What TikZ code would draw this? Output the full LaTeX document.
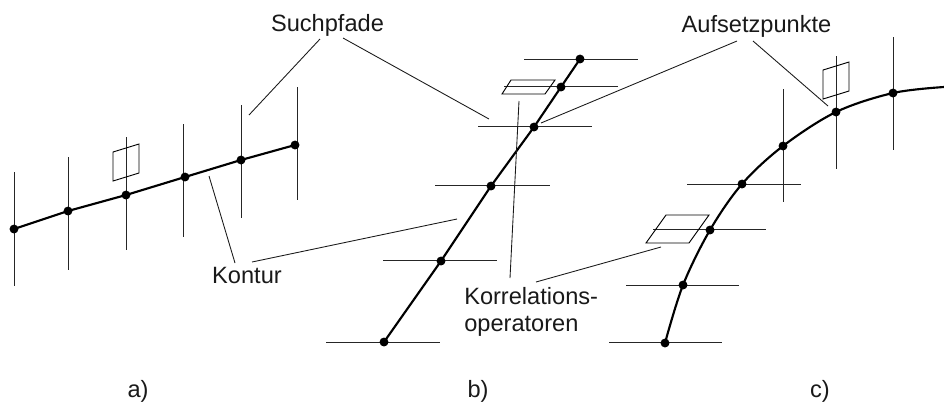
\documentclass[tikz,border=0pt]{standalone}
\usepackage{fontspec}
\setmainfont{Liberation Sans}
\tikzset{
  dotn/.style={circle,fill=black,inner sep=0pt,minimum size=6.7pt},
  contour/.style={line width=1.6pt,black},
  search/.style={line width=0.75pt,black!85},
  leader/.style={line width=0.65pt,black!90},
  oper/.style={line width=0.7pt,black},
  lab/.style={font=\fontsize{17.7}{20.5}\selectfont,inner sep=0pt,text=black!90},
  baselab/.style={lab,anchor=base}
}
\begin{document}
\begin{tikzpicture}[x=0.75pt,y=-0.75pt]
\useasboundingbox (0,0) rectangle (944,405);
% Panel a
\foreach \n/\x/\y/\xv/\ya/\yb in {a1/14/229/14/172/286,a2/68/211/68/157/270,a3/126/195/126/137/250,a4/185/177/183/124/237,a5/241/160/241/105/218,a6/295/145/297/87/200}{
  \coordinate (\n) at (\x,\y);
  \coordinate (\n t) at (\xv,\ya);
  \coordinate (\n b) at (\xv,\yb);
  \draw[search] (\n t) -- (\n b);
}
\draw[contour] (a1) -- (a2) -- (a3) -- (a4) -- (a5) -- (a6);
\foreach \n in {a1,a2,a3,a4,a5,a6} \node[dotn] (d\n) at (\n) {};
\draw[oper] (113,152) -- (139,144) -- (139,173) -- (113,181) -- cycle;
% Panel b
\foreach \n/\x/\y/\xl/\xr/\yh in {b1/384/342/326/440/342,b2/441/261/383/497/260,b3/491/186/435/550/185,b4/534/127/478/592/126.5,b5/561/87/504/618/86,b6/580/59/524/638/59}{
  \coordinate (\n) at (\x,\y);
  \coordinate (\n l) at (\xl,\yh);
  \coordinate (\n r) at (\xr,\yh);
  \draw[search] (\n l) -- (\n r);
}
\draw[contour] (b1) -- (b2) -- (b3) -- (b4) -- (b5) -- (b6);
\foreach \n in {b1,b2,b3,b4,b5,b6} \node[dotn] (d\n) at (\n) {};
\draw[oper] (511,80) -- (555,80) -- (545,94) -- (502,94) -- cycle;
% Panel c
\foreach \n/\x/\y/\xl/\xr/\yh in {c1/665/343/609/722/342,c2/683/285/626/739/285,c3/710/230/653/766/229,c4/742/184/687/801/184}{
  \coordinate (\n) at (\x,\y);
  \coordinate (\n l) at (\xl,\yh);
  \coordinate (\n r) at (\xr,\yh);
  \draw[search] (\n l) -- (\n r);
}
\foreach \n/\x/\y/\ya/\yb in {c5/783/146/89/202,c6/836/112/56/169,c7/893/93/37/150}{
  \coordinate (\n) at (\x,\y);
  \coordinate (\n t) at (\x,\ya);
  \coordinate (\n b) at (\x,\yb);
  \draw[search] (\n t) -- (\n b);
}
\coordinate (c8) at (944,87);
\draw[contour] plot[smooth,tension=0.55] coordinates {(c1) (c2) (c3) (c4) (c5) (c6) (c7) (c8)};
\foreach \n in {c1,c2,c3,c4,c5,c6,c7} \node[dotn] (d\n) at (\n) {};
\draw[oper] (823,70) -- (849,62) -- (849,91) -- (823,99) -- cycle;
\draw[oper] (666,215) -- (709,215) -- (689,243) -- (646,243) -- cycle;
% Labels
\node[baselab] (such) at (327.5,31) {Suchpfade};
\node[baselab] (auf) at (756.5,32.5) {Aufsetzpunkte};
\node[baselab] (kon) at (247,283.5) {Kontur};
\node[lab,align=left,anchor=west] (kor) at (464,312) {Korrelations-\\operatoren};
\node[baselab] (la) at (138,397) {a)};
\node[baselab] (lb) at (478,397) {b)};
\node[baselab] (lc) at (820,397) {c)};
% Leaders
\coordinate (s1) at (320,39); \coordinate (s2) at (249,115);
\coordinate (s3) at (343,38); \coordinate (s4) at (489,119);
\draw[leader] (s1) -- (s2);
\draw[leader] (s3) -- (s4);
\coordinate (k1) at (235,263); \coordinate (k2) at (209,176);
\coordinate (k3) at (252,262); \coordinate (k4) at (457,219);
\draw[leader] (k1) -- (k2);
\draw[leader] (k3) -- (k4);
\coordinate (o1) at (510,278); \coordinate (o2) at (519,101);
\coordinate (o3) at (536,282); \coordinate (o4) at (661,247);
\draw[leader] (o1) -- (o2);
\draw[leader] (o3) -- (o4);
\coordinate (p1) at (737,41); \coordinate (p2) at (541,123);
\coordinate (p3) at (753,41); \coordinate (p4) at (828,106);
\draw[leader] (p1) -- (p2);
\draw[leader] (p3) -- (p4);
\end{tikzpicture}
\end{document}
